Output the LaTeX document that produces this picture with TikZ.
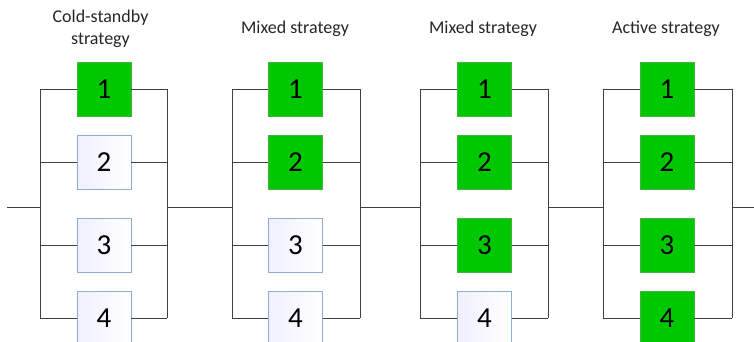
\documentclass[tikz,border=0pt]{standalone}
\usepackage{fontspec}
\setmainfont{Carlito}
\definecolor{boxgreen}{RGB}{0,200,0}
\definecolor{greenedge}{RGB}{70,175,70}
\definecolor{blueedge}{RGB}{140,175,215}
\definecolor{wirecol}{RGB}{64,64,64}
\tikzset{
  unit/.style={minimum width=54pt, minimum height=54pt, inner sep=0pt, font=\fontsize{29}{29}\selectfont, line width=0.8pt},
  on/.style={unit, fill=boxgreen, draw=greenedge},
  off/.style={unit, draw=blueedge, left color=blue!6, right color=white},
  wire/.style={draw=wirecol, line width=0.9pt},
  title/.style={font=\fontsize{18}{22}\selectfont, align=center, text=black!85}
}
\begin{document}
\begin{tikzpicture}[x=1pt,y=-1pt]
\useasboundingbox (0,0) rectangle (754,342);
\clip (0,0) rectangle (754,342);
\coordinate (in) at (7,207);
\coordinate (out) at (754,207);
\foreach \b/\xl/\xc/\xr in {1/40/104/167, 2/232/295.5/360, 3/420/484.5/548, 4/603/667/732} {
  \foreach \k/\y in {1/89, 2/162, 3/245, 4/318} {
    \ifnum\k>\b\relax\def\st{off}\else\def\st{on}\fi
    \node[\st] (b\b-\k) at (\xc,\y) {\k};
    \coordinate (l\b-\k) at (\xl,\y);
    \coordinate (r\b-\k) at (\xr,\y);
    \draw[wire] (l\b-\k) -- (b\b-\k.west);
    \draw[wire] (b\b-\k.east) -- (r\b-\k);
  }
  \coordinate (l\b) at (\xl,207);
  \coordinate (r\b) at (\xr,207);
  \draw[wire] (l\b-1) -- (l\b-4);
  \draw[wire] (r\b-1) -- (r\b-4);
}
\draw[wire] (in) -- (l1);
\draw[wire] (r1) -- (l2);
\draw[wire] (r2) -- (l3);
\draw[wire] (r3) -- (l4);
\draw[wire] (r4) -- (out);
\node[title] (t1) at (100.5,29) {Cold-standby\\strategy};
\node[title] (t2) at (295,29) {Mixed strategy};
\node[title] (t3) at (483,29) {Mixed strategy};
\node[title] (t4) at (666,29) {Active strategy};
\end{tikzpicture}
\end{document}
